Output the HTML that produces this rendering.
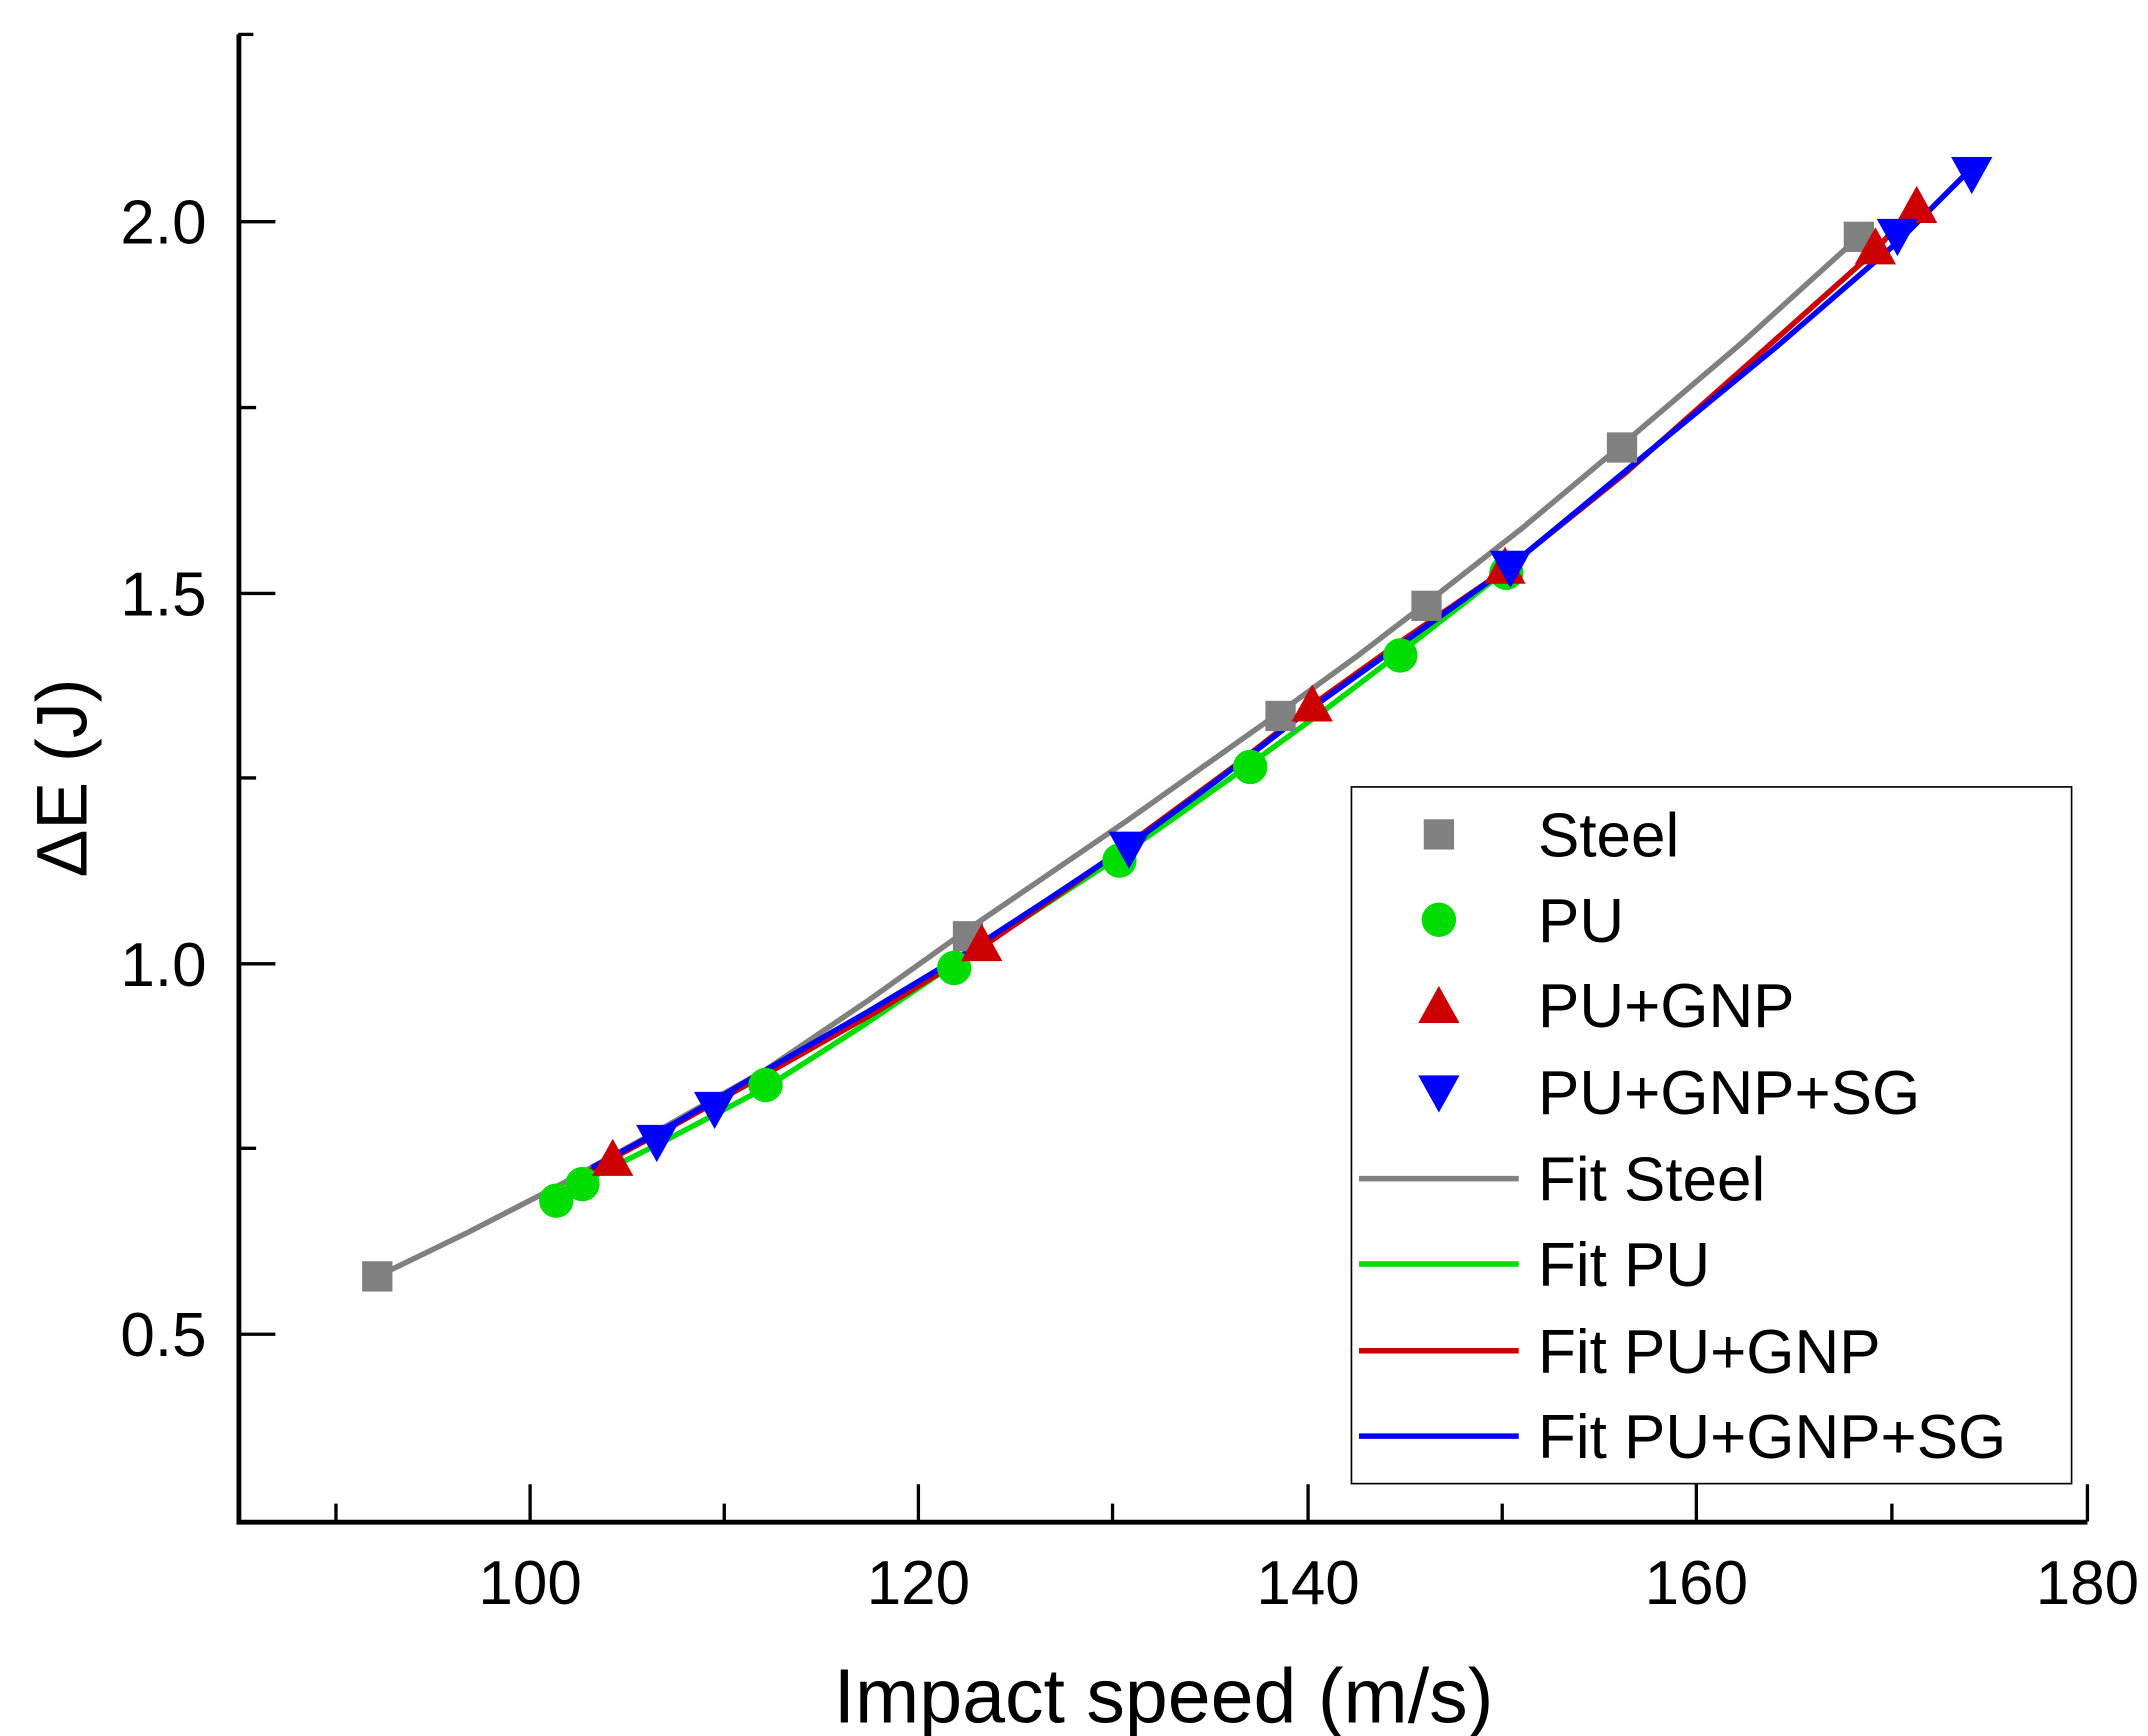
<!DOCTYPE html>
<html><head><style>html,body{margin:0;padding:0;background:#fff}svg{display:block}</style></head>
<body>
<svg width="2148" height="1736" viewBox="0 0 1560 1260.8" preserveAspectRatio="none" font-family="Liberation Sans, Arial, sans-serif">
<rect width="1560" height="1261" fill="#fff"/>
<!-- axes -->
<path d="M173.5 25 V1105.5 H1516" fill="none" stroke="#000" stroke-width="3.5"/>
<g stroke="#000" stroke-width="2.4">
<path d="M173 25H184"/>
<path d="M173 161H200M173 296H186M173 431H200M173 565H186M173 700H200M173 834H186M173 969H200"/>
<path d="M244 1105V1092M385 1105V1078M526 1105V1092M667 1105V1078M808 1105V1092M950 1105V1078M1091 1105V1092M1232 1105V1078M1374 1105V1092M1516 1105V1078"/>
</g>
<g font-size="45" text-anchor="end">
<text x="150" y="177">2.0</text><text x="150" y="447">1.5</text><text x="150" y="716">1.0</text><text x="150" y="985">0.5</text>
</g>
<g font-size="45" text-anchor="middle">
<text x="385" y="1165">100</text><text x="667" y="1165">120</text><text x="950" y="1165">140</text><text x="1232" y="1165">160</text><text x="1516" y="1165">180</text>
</g>
<text x="845" y="1251" font-size="56" text-anchor="middle">Impact speed (m/s)</text>
<text transform="translate(63,565) rotate(-90)" font-size="52" text-anchor="middle">ΔE (J)</text>
<!-- fits -->
<g fill="none" stroke-width="4" stroke-linejoin="round">
<polyline stroke="#808080" points="274,927 340,895 404,862 480,820 556,777 630,727 703,675 760,636 820,595 875,556 930,517 985,477 1036,438 1105,384 1178,323 1265,249 1350,172"/>
<polyline stroke="#00dd00" points="404,868 480,830 556,790 625,746 693,700 753,661 813,622 860,589 908,555 963,515 1017,474 1094,414"/>
<polyline stroke="#cc0000" points="425,852 490,817 560,778 636,735 713,688 777,644 840,598 897,556 953,512 1023,462 1093,414 1180,344 1270,264 1362,182 1390,150"/>
<polyline stroke="#0000ff" points="430,848 495,813 560,775 630,735 700,693 760,654 820,614 885,566 950,516 1023,464 1097,411 1200,326 1290,252 1378,176 1432,122"/>
</g>
<!-- markers -->
<g fill="#808080">
<rect x="263" y="916" width="22" height="22"/><rect x="692" y="669" width="22" height="22"/><rect x="919" y="509" width="22" height="22"/><rect x="1025" y="429" width="22" height="22"/><rect x="1167" y="314" width="22" height="22"/><rect x="1339" y="161" width="22" height="22"/>
</g>
<g fill="#00dd00">
<circle cx="404" cy="872" r="12.5"/><circle cx="423" cy="860" r="12.5"/><circle cx="556" cy="788" r="12.5"/><circle cx="693" cy="703" r="12.5"/><circle cx="813" cy="625" r="12.5"/><circle cx="908" cy="557" r="12.5"/><circle cx="1017" cy="476" r="12.5"/><circle cx="1094" cy="416" r="12.5"/>
</g>
<g fill="#cc0000">
<path d="M445 827l15 27h-30z"/><path d="M713 671l15 27h-30z"/><path d="M953 497l15 27h-30z"/><path d="M1362 165l15 27h-30z"/><path d="M1392 135l15 27h-30z"/><path d="M1093 397l15 27h-30z"/>
</g>
<g fill="#0000ff">
<path d="M477 844l15-27h-30z"/><path d="M519 820l15-27h-30z"/><path d="M820 631l15-27h-30z"/><path d="M1097 427l15-27h-30z"/><path d="M1378 186l15-27h-30z"/><path d="M1432 141l15-27h-30z"/>
</g>
<!-- legend -->
<rect x="981.5" y="571.5" width="523" height="506" fill="#fff" stroke="#000" stroke-width="1.2"/>
<g font-size="45">
<rect x="1034" y="595" width="22" height="22" fill="#808080"/><text x="1117" y="622">Steel</text>
<circle cx="1045" cy="668" r="12.5" fill="#00dd00"/><text x="1117" y="684">PU</text>
<path d="M1045 716l15 27h-30z" fill="#cc0000"/><text x="1117" y="746">PU+GNP</text>
<path d="M1045 808l15-27h-30z" fill="#0000ff"/><text x="1117" y="809">PU+GNP+SG</text>
<line x1="987" y1="856" x2="1103" y2="856" stroke="#808080" stroke-width="4"/><text x="1117" y="872">Fit Steel</text>
<line x1="987" y1="918" x2="1103" y2="918" stroke="#00dd00" stroke-width="4"/><text x="1117" y="934">Fit PU</text>
<line x1="987" y1="981" x2="1103" y2="981" stroke="#cc0000" stroke-width="4"/><text x="1117" y="997">Fit PU+GNP</text>
<line x1="987" y1="1043" x2="1103" y2="1043" stroke="#0000ff" stroke-width="4"/><text x="1117" y="1059">Fit PU+GNP+SG</text>
</g>
</svg>
</body></html>
